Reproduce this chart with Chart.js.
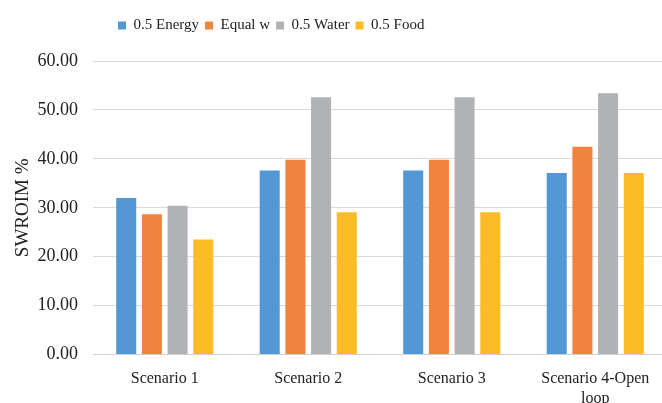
<!DOCTYPE html>
<html>
<head>
<meta charset="utf-8">
<script src="https://cdn.jsdelivr.net/npm/chart.js@4/dist/chart.umd.min.js"></script>
<style>
  html, body { margin: 0; padding: 0; background: #ffffff; overflow: hidden; }
  #wrap { width: 662px; height: 403px; overflow: hidden; position: relative; }
  #c { position: absolute; left: 0; top: 0; }
</style>
</head>
<body>
<div id="wrap"><canvas id="c" width="667" height="415"></canvas></div>
<script>
// SWROIM % per scenario under different weighting schemes
const categories = ['Scenario 1', 'Scenario 2', 'Scenario 3', ['Scenario 4-Open', 'loop']];
const energyHalf = [32.0, 37.6, 37.6, 37.1];
const equalW     = [28.7, 39.8, 39.8, 42.5];
const waterHalf  = [30.4, 52.6, 52.6, 53.4];
const foodHalf   = [23.5, 29.1, 29.1, 37.1];
const yTicks = [0, 10, 20, 30, 40, 50, 60];

const serif = '"Liberation Serif", "Times New Roman", serif';
const ink = '#222222';

// Legend sits left of centre with extra room beneath it
const legendShift = {
  id: 'legendShift',
  beforeInit(chart) {
    const lg = chart.legend;
    const origFit = lg.fit;
    lg.fit = function () {
      origFit.call(this);
      this.height += 18;
    };
  },
  afterLayout(chart) {
    const lg = chart.legend;
    const w = lg.right - lg.left;
    lg.left = 112;
    lg.right = lg.left + w;
  }
};

new Chart(document.getElementById('c'), {
  type: 'bar',
  data: {
    labels: categories,
    datasets: [
      { label: '0.5 Energy', data: energyHalf, backgroundColor: '#5398d4' },
      { label: 'Equal w',    data: equalW,     backgroundColor: '#f0843f' },
      { label: '0.5 Water',  data: waterHalf,  backgroundColor: '#b1b2b6' },
      { label: '0.5 Food',   data: foodHalf,   backgroundColor: '#fcbc28' }
    ]
  },
  plugins: [legendShift],
  options: {
    responsive: false,
    animation: false,
    layout: { padding: { left: 8, right: 0, top: 12, bottom: 0 } },
    datasets: { bar: { categoryPercentage: 0.716, barPercentage: 0.78 } },
    plugins: {
      legend: {
        position: 'top',
        align: 'start',
        labels: { font: { family: serif, size: 15 }, color: ink, boxWidth: 8, boxHeight: 8, padding: 6 }
      },
      tooltip: { enabled: false }
    },
    scales: {
      x: {
        grid: { display: false },
        border: { display: true, color: '#d0d0d0' },
        ticks: { font: { family: serif, size: 16 }, color: ink, maxRotation: 0, padding: 7 }
      },
      y: {
        min: 0, max: 60,
        afterBuildTicks: (axis) => { axis.ticks = yTicks.map(v => ({ value: v })); },
        afterFit: (axis) => { axis.width = 85; },
        grid: { color: '#d9d9d9', drawTicks: false },
        border: { display: false },
        ticks: { font: { family: serif, size: 18 }, color: ink, padding: 15, callback: v => Number(v).toFixed(2) },
        title: { display: true, text: 'SWROIM %', font: { family: serif, size: 19 }, color: ink, padding: 4 }
      }
    }
  }
});
</script>
</body>
</html>
